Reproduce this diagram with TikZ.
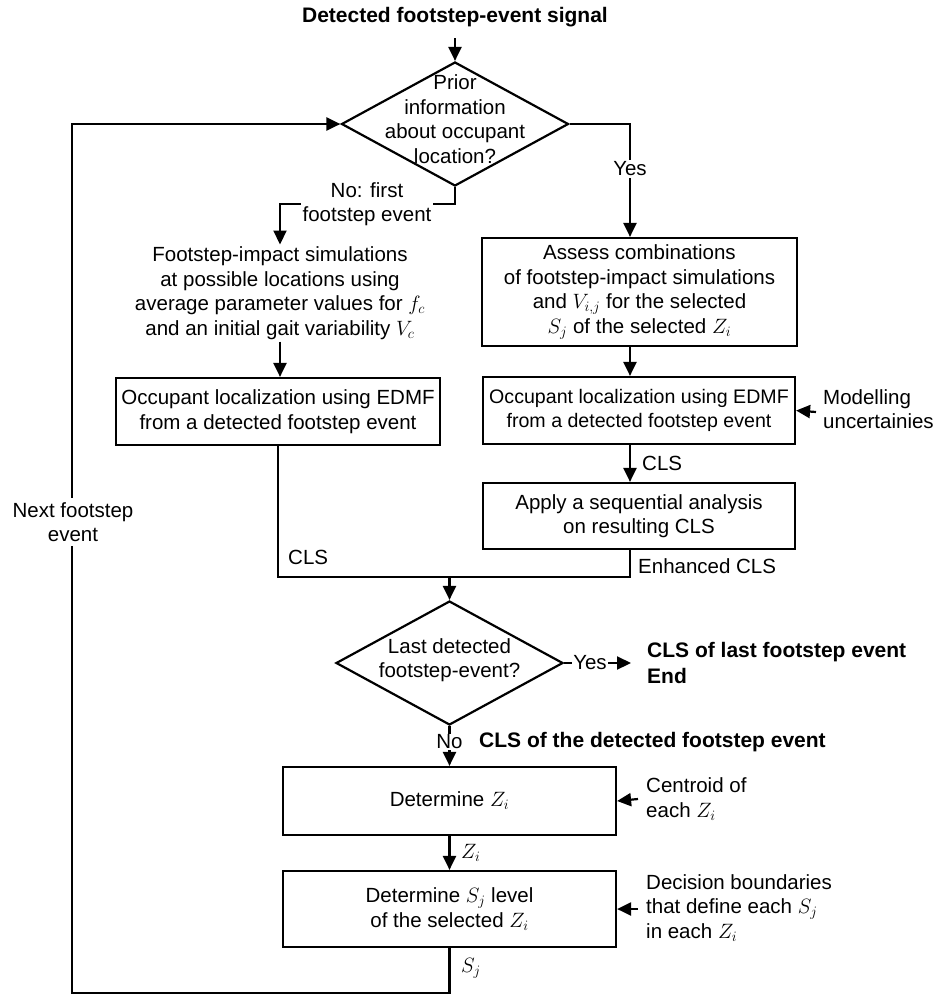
\documentclass[tikz,border=0pt]{standalone}
\usepackage{fontspec}
\setmainfont{Liberation Sans}
\usetikzlibrary{arrows.meta,shapes.geometric}
\begin{document}
\begin{tikzpicture}[x=1pt,y=-1pt,
  every node/.style={font=\fontsize{20.5}{24.5}\selectfont},
  ln/.style={line width=2.2pt},
  arr/.style={ln,-{Triangle[length=14pt,width=13pt]}},
  box/.style={draw,line width=2.2pt,align=center,inner sep=0pt},
  dia/.style={draw,line width=2.2pt,diamond,inner sep=0pt},
  lbl/.style={align=center,inner sep=2pt},
  wlbl/.style={lbl,fill=white},
  side/.style={align=left,inner sep=0pt,anchor=west}]
\useasboundingbox (0,0) rectangle (938,994);

% nodes
\node[lbl,font=\fontsize{21}{24.5}\selectfont\bfseries] (title) at (455,17) {Detected footstep-event signal};
\node[dia,minimum width=227pt,minimum height=124pt] (d1) at (455,124) {};
\node[lbl] (d1t) at (455,119) {Prior\\information\\about occupant\\location?};
\node[lbl] (ftext) at (280,293) {Footstep-impact simulations\\at possible locations using\\average parameter values for $f_c$\\and an initial gait variability $V_c$};
\node[box,minimum width=324pt,minimum height=67pt] (lbox) at (278,411.5) {Occupant localization using EDMF\\from a detected footstep event};
\node[box,minimum width=315pt,minimum height=108pt] (rbox1) at (639.5,292) {Assess combinations\\of footstep-impact simulations\\and $V_{i,j}$ for the selected\\$S_j$ of the selected $Z_i$};
\node[box,minimum width=312pt,minimum height=67pt,font=\fontsize{19.6}{24.5}\selectfont] (rbox2) at (639,410.5) {Occupant localization using EDMF\\from a detected footstep event};
\node[box,minimum width=312pt,minimum height=66pt] (rbox3) at (639,516) {Apply a sequential analysis\\on resulting CLS};
\node[dia,minimum width=227pt,minimum height=124pt] (d2) at (449.5,663) {};
\node[lbl] (d2t) at (449.5,660) {Last detected\\footstep-event?};
\node[box,minimum width=333pt,minimum height=68pt] (zbox) at (449.5,801) {Determine $Z_i$};
\node[box,minimum width=333pt,minimum height=76pt] (sbox) at (449.5,909) {Determine $S_j$ level\\of the selected $Z_i$};

\coordinate (rx) at (630,0);
\coordinate (mj) at (449.5,577);
\coordinate (lb) at (72,993);
\coordinate (tin) at (455,38);
\coordinate (mu) at (816,412);
\coordinate (ce) at (638,799);
\coordinate (db) at (638,909);
\coordinate (ye) at (631,663);

% connectors
\draw[arr] (tin) -- (d1.north);
\draw[arr] (d1.south) -- ++(0,17) -| (ftext.north);
\draw[arr] (ftext.south) -- (lbox.north -| ftext.south);
\draw[arr] (d1.east) -| (rx |- rbox1.north);
\draw[arr] (rx |- rbox1.south) -- (rx |- rbox2.north);
\draw[arr] (rx |- rbox2.south) -- (rx |- rbox3.north);
\draw[ln] (rx |- rbox3.south) |- (mj);
\draw[ln] (lbox.south) |- (mj);
\draw[arr] (mj) -- (d2.north);
\draw[arr] (d2.east) -- (ye);
\draw[arr] (d2.south) -- (zbox.north);
\draw[arr] (zbox.south) -- (sbox.north);
\draw[arr] (sbox.south) |- (lb) |- (d1.west);
\draw[arr] (mu) -- (rbox2.east);
\draw[arr] (ce) -- (zbox.east);
\draw[arr] (db) -- (sbox.east);

% labels
\node[wlbl] (nofirst) at (367,204) {No: first\\footstep event};
\node[wlbl] (yes1) at (630,169) {Yes};
\node[side] (cls1) at (642,463) {CLS};
\node[side] (ecls) at (638,566) {Enhanced CLS};
\node[side] (cls2) at (288,557) {CLS};
\node[side] (mod) at (823,409) {Modelling\\uncertainies};
\node[wlbl,inner sep=1pt] (yes2) at (590,663) {Yes};
\node[side,font=\fontsize{21}{26}\selectfont\bfseries] (endt) at (647,663) {CLS of last footstep event\\End};
\node[wlbl,inner sep=1pt] (no2) at (449.5,742) {No};
\node[side,font=\fontsize{21}{24.5}\selectfont\bfseries] (clsd) at (479,742) {CLS of the detected footstep event};
\node[side] (zl) at (461,853) {$Z_i$};
\node[side] (sl) at (461,968) {$S_j$};
\node[side] (cen) at (646,799) {Centroid of\\each $Z_i$};
\node[side] (dec) at (646,908) {Decision boundaries\\that define each $S_j$\\in each $Z_i$};
\node[wlbl,inner sep=4pt] (next) at (73,522) {Next footstep\\event};
\end{tikzpicture}
\end{document}
